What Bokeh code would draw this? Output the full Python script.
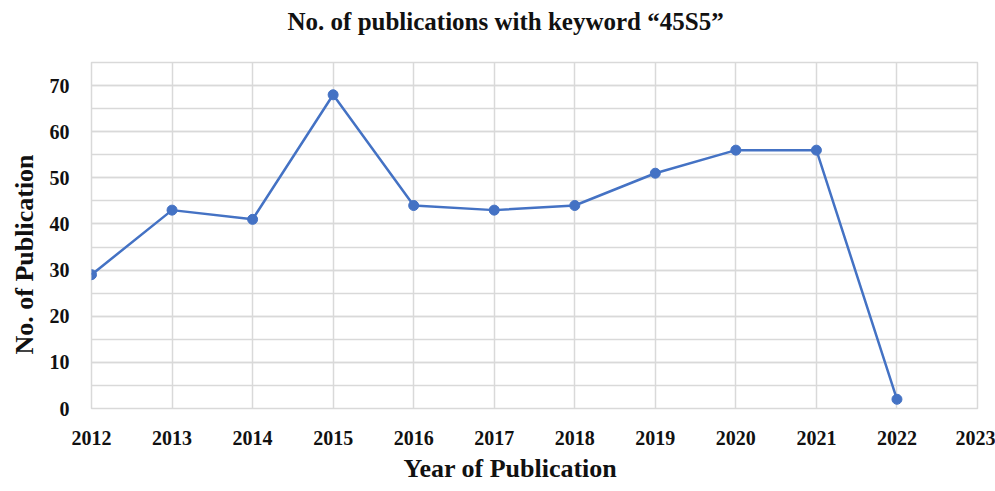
from bokeh.plotting import figure
from bokeh.models import SingleIntervalTicker, Range1d, FixedTicker, Title
from bokeh.embed import file_html
from bokeh.resources import INLINE

years = [2012, 2013, 2014, 2015, 2016, 2017, 2018, 2019, 2020, 2021, 2022]
counts = [29, 43, 41, 68, 44, 43, 44, 51, 56, 56, 2]
x_ticks = list(range(2012, 2024))
title_text = "No. of publications with keyword \u201c45S5\u201d"
x_label = "Year of Publication"
y_label = "No. of Publication"

FONT = "Liberation Serif"
BLUE = "#4472C4"
GRID = "#d9d9d9"
INK = "#111111"

p = figure(width=995, height=491, output_backend="svg", toolbar_location=None, title=None,
           x_range=Range1d(2012, 2023), y_range=Range1d(0, 75),
           min_border_left=0, min_border_right=18, min_border_top=0, min_border_bottom=0)

p.line(years, counts, line_color=BLUE, line_width=2.5)
p.scatter(years, counts, size=10, fill_color=BLUE, line_color=BLUE)

p.xaxis.ticker = FixedTicker(ticks=x_ticks)
p.yaxis.ticker = SingleIntervalTicker(interval=10, num_minor_ticks=2)

for ax in (p.xaxis[0], p.yaxis[0]):
    ax.axis_line_color = None
    ax.major_tick_line_color = None
    ax.minor_tick_line_color = None
    ax.major_label_text_font = FONT
    ax.major_label_text_font_style = "bold"
    ax.major_label_text_font_size = "20px"
    ax.major_label_text_color = INK

p.xaxis.major_label_standoff = 16
p.yaxis.major_label_standoff = 16

txt = dict(text_font=FONT, text_font_style="bold", text_color=INK)

# top: spacer next to the frame, then the real title further out
p.add_layout(Title(text=" ", text_font_size="15px", standoff=0), "above")
p.add_layout(Title(text=title_text, text_font_size="25px", align="left", offset=196,
                   vertical_align="top", standoff=14, **txt), "above")

p.add_layout(Title(text=x_label, text_font_size="26px", align="left", offset=312,
                   vertical_align="top", standoff=13, **txt), "below")
p.add_layout(Title(text=y_label, text_font_size="26px", align="left", offset=54,
                   standoff=15, **txt), "left")

p.xgrid.grid_line_color = GRID
p.xgrid.grid_line_width = 1.5
p.ygrid.grid_line_color = GRID
p.ygrid.grid_line_width = 1.5
p.ygrid.minor_grid_line_color = GRID
p.ygrid.minor_grid_line_width = 1.5
p.outline_line_color = GRID
p.outline_line_width = 1.5

open("out.html", "w").write(file_html(p, INLINE))
